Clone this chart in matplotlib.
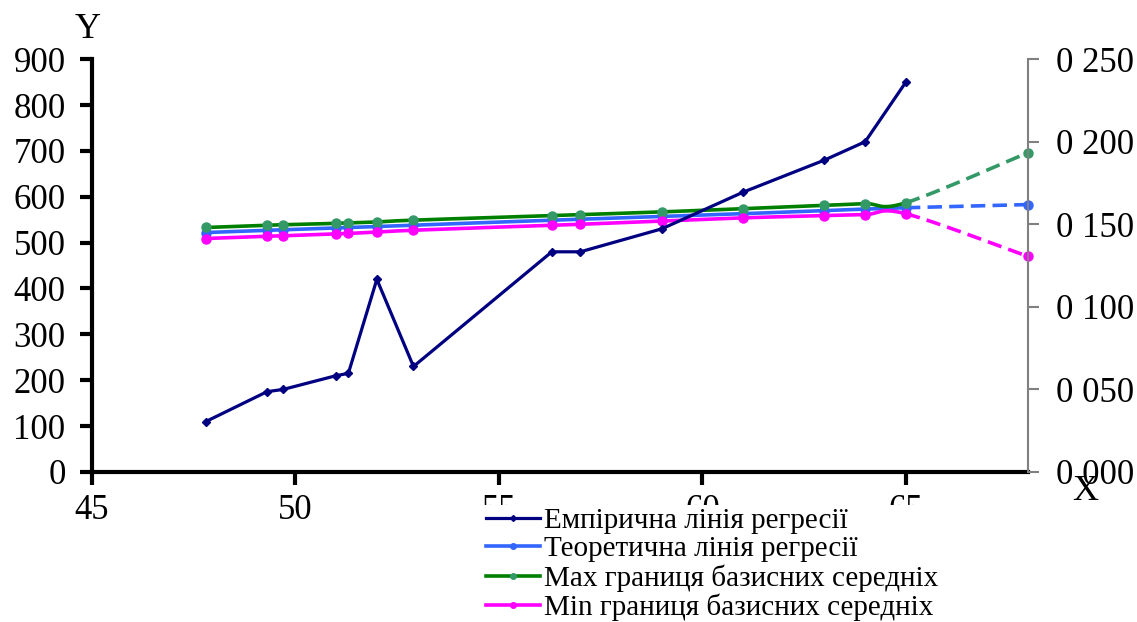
import numpy as np
import matplotlib
matplotlib.use("Agg")
import matplotlib.pyplot as plt
from matplotlib.lines import Line2D

plt.rcParams['font.family'] = ['Liberation Serif', 'DejaVu Serif']

# data
x_vals = [47.8, 49.3, 49.7, 51.0, 51.3, 52.0, 52.9, 56.3, 57.0, 59.0, 61.0, 63.0, 64.0, 65.0]
y_emp = [110, 175, 180, 210, 215, 420, 230, 480, 480, 530, 610, 680, 720, 850]
y_theor = [522, 527, 528, 532, 533, 535, 538, 549, 551, 557, 563, 570, 573, 576]
y_max = [533, 538, 539, 542, 543, 545, 549, 559, 561, 567, 574, 581, 585, 587]
y_min = [509, 514, 515, 519, 520, 523, 527, 538, 540, 547, 554, 559, 561, 563]

# forecast point
x_fc = 68.0
theor_fc = 583
max_fc = 696
min_fc = 470

labels = ["Емпірична лінія регресії", "Теоретична лінія регресії",
          "Max границя базисних середніх", "Min границя базисних середніх"]
right_ticks = [0.0, 0.05, 0.10, 0.15, 0.20, 0.25]
right_labels = ["0 000", "0 050", "0 100", "0 150", "0 200", "0 250"]

NAVY = "#000080"
BLUE = "#3366ff"
GREEN = "#008000"
SEAGREEN = "#339966"
PINK = "#ff00ff"


def smooth(xs, ys, n=30):
    # excel-like smoothed line, one bezier segment per pair of points
    P = np.column_stack([xs, ys]).astype(float)
    segs = []
    t = np.linspace(0, 1, n)[:, None]
    for i in range(len(P) - 1):
        p0, p3 = P[i], P[i + 1]
        prev = P[i - 1] if i > 0 else P[i]
        nxt = P[i + 2] if i + 2 < len(P) else P[i + 1]
        c1 = p0 + (p3 - prev) / 6
        c2 = p3 - (nxt - p0) / 6
        segs.append((1 - t) ** 3 * p0 + 3 * (1 - t) ** 2 * t * c1
                    + 3 * (1 - t) * t ** 2 * c2 + t ** 3 * p3)
    return segs


fig = plt.figure(figsize=(11.37, 6.22), dpi=100)
ax = fig.add_axes([0.0809, 0.2412, 0.8232, 0.6637])
ax2 = ax.twinx()

ax.plot(x_vals, y_emp, color=NAVY, lw=2.3, marker="D", ms=4, zorder=5)

for ys, fc, lc, mc in [(y_theor, theor_fc, BLUE, BLUE),
                       (y_max, max_fc, GREEN, SEAGREEN),
                       (y_min, min_fc, PINK, PINK)]:
    segs = smooth(x_vals + [x_fc], ys + [fc])
    solid = np.vstack(segs[:-1])
    ax.plot(solid[:, 0], solid[:, 1], color=lc, lw=2.6, zorder=3)
    ax.plot(segs[-1][:, 0], segs[-1][:, 1], color=mc, lw=2.6,
            ls=(0, (4, 2)), zorder=3, clip_on=False)
    ax.plot(x_vals + [x_fc], ys + [fc], ls="none", marker="o", ms=6.5,
            color=mc, zorder=4, clip_on=False)

ax.set_xlim(45, 68)
ax.set_ylim(0, 900)
ax.set_xticks([45, 50, 55, 60, 65])
ax.set_yticks(range(0, 901, 100))
ax.tick_params(axis="both", labelsize=25, width=3, length=9, direction="out")
ax.tick_params(axis="y", pad=10)
ax.tick_params(axis="x", pad=7)
for s in ["top", "right"]:
    ax.spines[s].set_visible(False)
ax.spines["left"].set_linewidth(3)
ax.spines["bottom"].set_linewidth(3)

ax2.set_ylim(0, 0.25)
ax2.set_yticks(right_ticks)
ax2.set_yticklabels(right_labels)
ax2.tick_params(axis="y", labelsize=25, color="#808080", width=1.5, length=8, pad=12)
for s in ["top", "left", "bottom"]:
    ax2.spines[s].set_visible(False)
ax2.spines["right"].set_color("#808080")
ax2.spines["right"].set_linewidth(1.5)

fig.text(88 / 1137, 1 - 30 / 622, "Y", fontsize=26, ha="center", va="center")
fig.text(1085 / 1137, 1 - 492 / 622, "X", fontsize=26, ha="center", va="center")

handles = [
    Line2D([], [], color=NAVY, lw=2.3, marker="D", ms=3),
    Line2D([], [], color=BLUE, lw=2.6, marker="o", ms=4),
    Line2D([], [], color=GREEN, lw=2.6, marker="o", ms=4, mfc=SEAGREEN, mec=SEAGREEN),
    Line2D([], [], color=PINK, lw=2.6, marker="o", ms=4),
]
leg = ax2.legend(handles, labels, loc="upper left",
                 bbox_to_anchor=(483 / 1137, 1 - 505 / 622),
                 bbox_transform=fig.transFigure, frameon=True, fancybox=False,
                 edgecolor="none", facecolor="white", framealpha=1,
                 fontsize=21, labelspacing=0.06, handlelength=1.85,
                 handletextpad=0.15, borderpad=0.1, borderaxespad=0)
leg.set_zorder(10)

fig.savefig("out.png", dpi=100)
